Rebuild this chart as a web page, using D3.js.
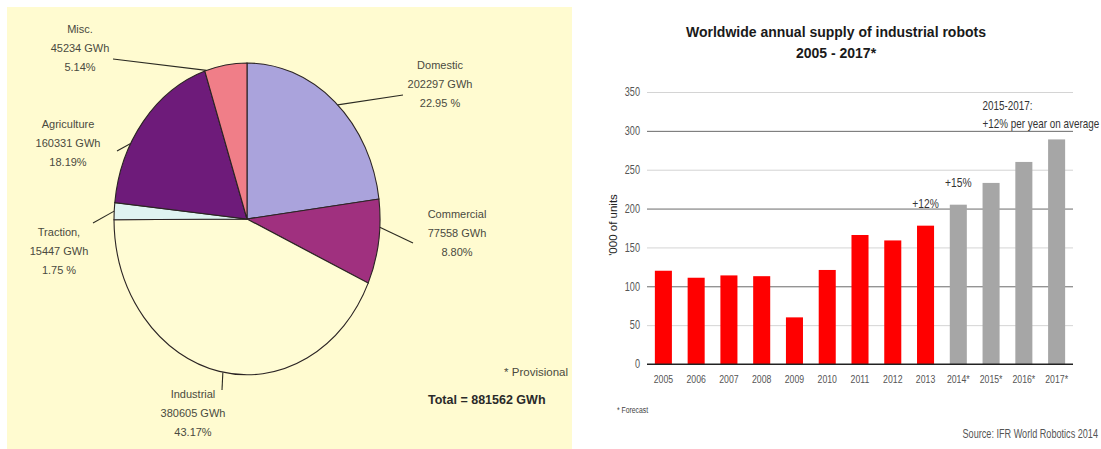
<!DOCTYPE html>
<html>
<head>
<meta charset="utf-8">
<script src="https://cdn.jsdelivr.net/npm/d3@7"></script>
<style>
  body { margin: 0; background: #fff; }
  svg { display: block; font-family: "Liberation Sans", Arial, sans-serif; }
</style>
</head>
<body>
<script>
// pie: electricity consumption by sector
var sectors = ["Domestic", "Commercial", "Industrial", "Traction,", "Agriculture", "Misc."];
var sectorGwh = [202297, 77558, 380605, 15447, 160331, 45234];
var sectorPct = ["22.95 %", "8.80%", "43.17%", "1.75 %", "18.19%", "5.14%"];
var sectorColors = ["#aaa3dc", "#a0307f", "#fffcd4", "#dff3f1", "#6e1b7a", "#f07e88"];

// bars: robot supply
var years = ["2005", "2006", "2007", "2008", "2009", "2010", "2011", "2012", "2013", "2014*", "2015*", "2016*", "2017*"];
var units = [120, 111, 114, 113, 60, 121, 166, 159, 178, 205, 233, 260, 289];
var yTicks = [0, 50, 100, 150, 200, 250, 300, 350];

var SQ = 0.76; // horizontal squeeze for the narrow-looking chart text

var svg = d3.select("body").append("svg")
  .attr("width", 1101)
  .attr("height", 449);

// ---------- left panel ----------
var left = svg.append("g");

left.append("rect")
  .attr("x", 7).attr("y", 7)
  .attr("width", 565).attr("height", 442)
  .attr("fill", "#fffbd0");

var cx = 247, cy = 219, rx = 133, ry = 156;

var pie = d3.pie().sort(null).value(function (d) { return d; });
var arcs = pie(sectorGwh);
var arc = d3.arc().innerRadius(0).outerRadius(1);

left.append("g")
  .attr("transform", "translate(" + cx + "," + cy + ") scale(" + rx + "," + ry + ")")
  .selectAll("path")
  .data(arcs)
  .enter()
  .append("path")
  .attr("d", arc)
  .attr("fill", function (d, i) { return sectorColors[i]; })
  .attr("stroke", "#2b2424")
  .attr("stroke-width", 1.1)
  .attr("vector-effect", "non-scaling-stroke");

// where the leader line meets the rim (fraction through the slice), and label layout
var labelLayout = [
  { frac: 0.52, end: [403, 95], tx: 440, ty: 69 },
  { frac: 0.33, end: [413, 243], tx: 457, ty: 218 },
  { frac: 0.49, end: [222, 390], tx: 193, ty: 398 },
  { frac: 0.5, end: [93, 223], tx: 59, ty: 236 },
  { frac: 0.35, end: [117, 151], tx: 68, ty: 128 },
  { frac: 0.04, end: [113, 59], tx: 80, ty: 33 }
];

arcs.forEach(function (d, i) {
  var L = labelLayout[i];
  var a = d.startAngle + (d.endAngle - d.startAngle) * L.frac;
  var px = cx + rx * Math.sin(a);
  var py = cy - ry * Math.cos(a);

  left.append("line")
    .attr("x1", px).attr("y1", py)
    .attr("x2", L.end[0]).attr("y2", L.end[1])
    .attr("stroke", "#2b2a22")
    .attr("stroke-width", 1.1);

  var t = left.append("text")
    .attr("text-anchor", "middle")
    .attr("font-size", 11)
    .attr("fill", "#4a4a40");
  [sectors[i], sectorGwh[i] + " GWh", sectorPct[i]].forEach(function (s, k) {
    t.append("tspan").attr("x", L.tx).attr("y", L.ty + k * 19).text(s);
  });
});

left.append("text")
  .attr("x", 568).attr("y", 376)
  .attr("text-anchor", "end")
  .attr("font-size", 11.5)
  .attr("fill", "#4a4a40")
  .text("* Provisional");

left.append("text")
  .attr("x", 428).attr("y", 404)
  .attr("font-size", 12.5)
  .attr("font-weight", "bold")
  .attr("fill", "#2a2a2a")
  .text("Total = 881562 GWh");

// ---------- right panel ----------
var right = svg.append("g");

var x = d3.scaleBand()
  .domain(years)
  .range([647, 1073])
  .paddingInner(0.48)
  .paddingOuter(0.24);

var y = d3.scaleLinear().domain([0, 350]).range([364, 92]);

right.append("text")
  .attr("x", 836).attr("y", 37)
  .attr("text-anchor", "middle")
  .attr("font-size", 14)
  .attr("font-weight", "bold")
  .attr("fill", "#1a1a1a")
  .text("Worldwide annual supply of industrial robots");

right.append("text")
  .attr("x", 836).attr("y", 58)
  .attr("text-anchor", "middle")
  .attr("font-size", 14)
  .attr("font-weight", "bold")
  .attr("fill", "#1a1a1a")
  .text("2005 - 2017*");

var yAxis = right.append("g")
  .attr("transform", "translate(647,0)")
  .call(d3.axisLeft(y).tickValues(yTicks).tickSize(-(1073 - 647)).tickPadding(7));

yAxis.select(".domain").remove();
yAxis.selectAll(".tick line")
  .attr("stroke", function (d) {
    if (d === 0) return "#222";
    return d % 100 === 0 ? "#6a6a6a" : "#d4d4d4";
  })
  .attr("stroke-width", 1);
yAxis.selectAll(".tick text")
  .attr("font-family", null)
  .attr("font-size", 12)
  .attr("fill", "#555")
  .attr("x", -7 / SQ)
  .attr("transform", "scale(" + SQ + ",1)");

right.append("text")
  .attr("transform", "translate(617,225) rotate(-90)")
  .attr("text-anchor", "middle")
  .attr("font-size", 11.5)
  .attr("fill", "#222")
  .text("'000 of units");

right.append("g")
  .selectAll("rect")
  .data(units)
  .enter()
  .append("rect")
  .attr("x", function (d, i) { return x(years[i]); })
  .attr("y", function (d) { return y(d); })
  .attr("width", x.bandwidth())
  .attr("height", function (d) { return y(0) - y(d); })
  .attr("fill", function (d, i) { return years[i].indexOf("*") > -1 ? "#a6a6a6" : "#ff0000"; });

// baseline over the bars
right.append("line")
  .attr("x1", 647).attr("x2", 1073)
  .attr("y1", y(0)).attr("y2", y(0))
  .attr("stroke", "#222");

var xAxis = right.append("g")
  .attr("transform", "translate(0," + y(0) + ")")
  .call(d3.axisBottom(x).tickSize(0).tickPadding(11));
xAxis.select(".domain").remove();
xAxis.selectAll(".tick text")
  .attr("font-family", null)
  .attr("font-size", 11.5)
  .attr("fill", "#555")
  .attr("transform", "scale(" + SQ + ",1)");

function squeezed(txt, px, py, anchor, size, color) {
  right.append("text")
    .attr("transform", "translate(" + px + "," + py + ") scale(" + SQ + ",1)")
    .attr("text-anchor", anchor)
    .attr("font-size", size)
    .attr("fill", color)
    .text(txt);
}

squeezed("+12%", x("2013") + x.bandwidth() / 2, y(units[8]) - 18, "middle", 13.5, "#333");
squeezed("+15%", x("2014*") + x.bandwidth() / 2, y(units[9]) - 18, "middle", 13.5, "#333");
squeezed("2015-2017:", x("2015*"), y(300) - 21, "start", 13, "#333");
squeezed("+12% per year on average", x("2015*"), y(300) - 3, "start", 13, "#333");
squeezed("* Forecast", 617, 413, "start", 9, "#444");
squeezed("Source: IFR World Robotics 2014", 1098, 438, "end", 12, "#555");
</script>
</body>
</html>
